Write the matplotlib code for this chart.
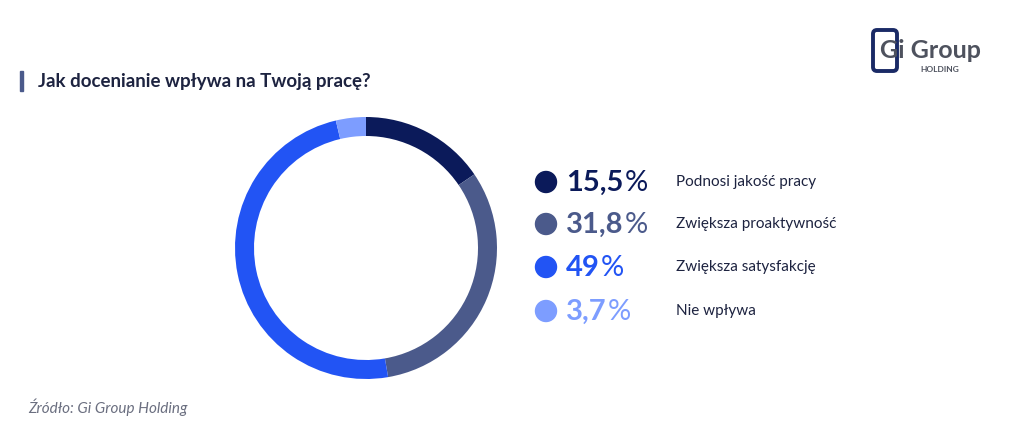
import matplotlib
matplotlib.use("Agg")
import matplotlib.pyplot as plt
from matplotlib.patches import Rectangle, FancyBboxPatch

plt.rcParams['font.family'] = ['Lato', 'DejaVu Sans']

labels = ["Podnosi jakość pracy", "Zwiększa proaktywność", "Zwiększa satysfakcję", "Nie wpływa"]
values = [15.5, 31.8, 49, 3.7]
value_text = ["15,5", "31,8", "49", "3,7"]
colors = ["#0b1a5a", "#4b5a8b", "#2254f4", "#7d9dff"]

W, H = 1024, 440
fig = plt.figure(figsize=(W / 100, H / 100), dpi=100)
fig.patch.set_facecolor("white")

# donut
cx, cy, r = 366, 248, 131
pax = fig.add_axes([(cx - r) / W, (H - cy - r) / H, 2 * r / W, 2 * r / H])
pax.pie(values, colors=colors, startangle=90, counterclock=False,
        wedgeprops=dict(width=0.145, edgecolor="none"))
pax.set_xlim(-1, 1)
pax.set_ylim(-1, 1)
pax.set_aspect("equal")

# overlay for text in pixel coords
ax = fig.add_axes([0, 0, 1, 1])
ax.set_xlim(0, W)
ax.set_ylim(H, 0)
ax.axis("off")

ax.add_patch(Rectangle((20, 71), 3, 20, color="#4b5a8b"))
ax.text(38, 82, "Jak docenianie wpływa na Twoją pracę?", fontsize=13.5,
        fontweight="bold", color="#1d2340", va="center")

ys = [182, 224, 267, 311]
for y, vt, lab, c in zip(ys, value_text, labels, colors):
    ax.add_patch(plt.Circle((546, y), 10.5, color=c))
    t = ax.text(566, y + 1, vt, fontsize=21, fontweight="bold", color=c, va="center")
    fig.canvas.draw()
    bb = t.get_window_extent()
    ax.text(bb.x1 + 1, y + 1, "%", fontsize=21, fontweight="normal", color=c, va="center")
    ax.text(676, y, lab, fontsize=11, color="#1d2340", va="center")

ax.text(28, 407, "Źródło: Gi Group Holding", fontsize=11, style="italic",
        color="#6b6f80", va="center")

# logo
ax.add_patch(FancyBboxPatch((873, 30), 24, 41, boxstyle="round,pad=0,rounding_size=4",
                            fill=False, edgecolor="#1a2a66", lw=2.8))
ax.text(880, 51, "Gi Group", fontsize=18, fontweight="bold", color="#4e525e", va="center")
ax.text(920, 69, "HOLDING", fontsize=6, fontweight="bold", color="#4e525e", va="center")

fig.savefig("out.png", dpi=100)
